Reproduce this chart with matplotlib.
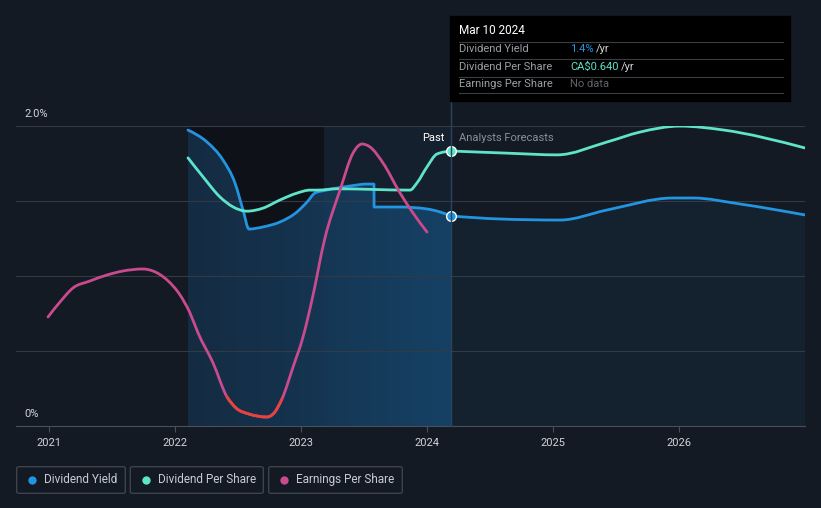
import numpy as np
import matplotlib.pyplot as plt
from matplotlib.patches import Rectangle, FancyBboxPatch, PathPatch
from matplotlib.lines import Line2D
from matplotlib.path import Path

plt.rcParams['font.family'] = ['Roboto', 'DejaVu Sans']

W, H = 821, 508
BG = '#141a23'
BLUE = '#2394df'
TEAL = '#5fe3c9'
PINK = '#c94b8d'
RED = '#e8433a'

# dividend yield (%)
yield_years = [2022.103, 2022.254, 2022.381, 2022.476, 2022.540, 2022.587, 2022.698,
               2022.833, 2022.968, 2023.048, 2023.111, 2023.206, 2023.389, 2023.524,
               2023.579, 2023.580, 2023.786, 2024.000, 2024.103, 2024.190]
yield_vals = [1.973, 1.893, 1.773, 1.620, 1.440, 1.313, 1.327,
              1.360, 1.427, 1.493, 1.553, 1.573, 1.600, 1.613,
              1.613, 1.460, 1.460, 1.447, 1.427, 1.400]
yield_fc_years = [2024.190, 2024.579, 2025.056, 2025.429, 2025.952, 2026.111, 2026.484, 2027.0]
yield_fc_vals = [1.400, 1.380, 1.373, 1.440, 1.520, 1.520, 1.480, 1.407]

# dividend per share (CA$)
dps_years = [2022.103, 2022.222, 2022.357, 2022.460, 2022.571, 2022.698, 2022.833,
             2022.968, 2023.071, 2023.127, 2023.286, 2023.865, 2023.921, 2024.000,
             2024.079, 2024.190]
dps_vals = [0.624, 0.580, 0.533, 0.510, 0.500, 0.507, 0.526,
            0.542, 0.549, 0.549, 0.552, 0.549, 0.566, 0.603,
            0.633, 0.640]
dps_fc_years = [2024.190, 2024.635, 2025.032, 2025.429, 2025.690, 2026.008, 2026.349, 2027.0]
dps_fc_vals = [0.640, 0.635, 0.631, 0.661, 0.684, 0.698, 0.689, 0.647]

# earnings per share (CA$)
eps_years = [2020.992, 2021.087, 2021.190, 2021.325, 2021.460, 2021.587, 2021.746,
             2021.825, 2021.937, 2022.040, 2022.119, 2022.183, 2022.302, 2022.413,
             2022.484, 2022.587, 2022.730, 2022.786, 2022.849, 2022.937, 2023.016,
             2023.087, 2023.190, 2023.310, 2023.413, 2023.484, 2023.548, 2023.651,
             2023.786, 2023.889, 2024.000]
eps_vals = [1.09, 1.24, 1.38, 1.45, 1.51, 1.55, 1.57,
            1.55, 1.46, 1.31, 1.13, 0.93, 0.63, 0.29,
            0.18, 0.12, 0.09, 0.13, 0.27, 0.59, 0.89,
            1.26, 1.88, 2.36, 2.73, 2.82, 2.79, 2.63,
            2.33, 2.13, 1.94]
eps_red_from, eps_red_to = 2022.41, 2022.85

year_ticks = [2021, 2022, 2023, 2024, 2025, 2026]
past_start = 2023.183
today = 2024.19
XMIN, XMAX = 2020.738, 2027.0


def fx(x):
    return x / W


def fy(y):
    return 1 - y / H


def smooth_path(xs, ys):
    # monotone-x cubic through the points, drawn as bezier segments
    x = np.asarray(xs, float)
    y = np.asarray(ys, float)
    h = np.diff(x)
    s = np.diff(y) / h
    m = np.zeros_like(y)
    for i in range(1, len(x) - 1):
        if s[i - 1] * s[i] > 0:
            p = (s[i - 1] * h[i] + s[i] * h[i - 1]) / (h[i - 1] + h[i])
            m[i] = np.sign(s[i - 1]) * min(abs(s[i - 1]), abs(s[i]), 0.5 * abs(p))
            m[i] *= 2
    m[0] = (3 * s[0] - m[1]) / 2 if len(x) > 2 else s[0]
    m[-1] = (3 * s[-1] - m[-2]) / 2 if len(x) > 2 else s[-1]
    verts = [(x[0], y[0])]
    codes = [Path.MOVETO]
    for i in range(len(x) - 1):
        d = h[i] / 3
        verts += [(x[i] + d, y[i] + m[i] * d), (x[i + 1] - d, y[i + 1] - m[i + 1] * d),
                  (x[i + 1], y[i + 1])]
        codes += [Path.CURVE4] * 3
    return Path(verts, codes)


def draw_line(a, xs, ys, color, z=3):
    a.add_patch(PathPatch(smooth_path(xs, ys), fc='none', ec=color, lw=2, zorder=z,
                          capstyle='round', joinstyle='round'))


fig = plt.figure(figsize=(W / 100, H / 100), dpi=100, facecolor=BG)
ax = fig.add_axes([fx(16), fy(426), fx(805) - fx(16), fy(126) - fy(426)])
ax.set_facecolor(BG)
ax.set_xlim(XMIN, XMAX)
ax.set_ylim(0, 2.0)

for v in [0.5, 1.0, 1.5, 2.0]:
    ax.axhline(v, color='#333a44', lw=0.8, zorder=1)

ax.axvspan(yield_years[0], past_start, color='#0e1218', zorder=0.5, lw=0)
ax.axvspan(past_start, today, color='#1e4d7a', alpha=0.13, zorder=0.6, lw=0)

# area under the past yield, getting bluer towards today
p = smooth_path(yield_years, yield_vals)
area = np.vstack([p.vertices, [[today, 0], [yield_years[0], 0], [yield_years[0], yield_vals[0]]]])
acodes = list(p.codes) + [Path.LINETO, Path.LINETO, Path.LINETO]
clip = PathPatch(Path(area, acodes), fc='none', ec='none', transform=ax.transData)
ax.add_patch(clip)
grad = np.linspace(0, 1, 200).reshape(1, -1)
img = ax.imshow(grad, extent=[yield_years[0], today, 0, 2.0], aspect='auto',
                cmap=plt.matplotlib.colors.LinearSegmentedColormap.from_list(
                    'g', [(0.09, 0.19, 0.29, 0.85), (0.09, 0.27, 0.42, 0.9)]),
                zorder=0.7, interpolation='bilinear')
img.set_clip_path(clip)

pf = smooth_path(yield_fc_years, yield_fc_vals)
farea = np.vstack([pf.vertices, [[XMAX, 0], [today, 0], [today, yield_fc_vals[0]]]])
fcodes = list(pf.codes) + [Path.LINETO, Path.LINETO, Path.LINETO]
ax.add_patch(PathPatch(Path(farea, fcodes), fc=BLUE, alpha=0.06, ec='none', zorder=0.7))

draw_line(ax, yield_years, yield_vals, BLUE)
draw_line(ax, yield_fc_years, yield_fc_vals, BLUE)
ax.plot([today], [yield_vals[-1]], 'o', ms=7, color=BLUE, mec='white', mew=1, zorder=6)
ax.set_xlim(XMIN, XMAX)
ax.set_ylim(0, 2.0)

ax_dps = ax.twinx()
ax_dps.set_ylim(0, 0.64 * 300 / 275)
draw_line(ax_dps, dps_years, dps_vals, TEAL)
draw_line(ax_dps, dps_fc_years, dps_fc_vals, TEAL)
ax_dps.plot([today], [dps_vals[-1]], 'o', ms=7, color=TEAL, mec='white', mew=1, zorder=6)

ax_eps = ax.twinx()
ax_eps.set_ylim(0, 3.0)
draw_line(ax_eps, eps_years, eps_vals, PINK)
ey = np.array(eps_years)
ev = np.array(eps_vals)
m = (ey >= eps_red_from) & (ey <= eps_red_to)
draw_line(ax_eps, ey[m], ev[m], RED, z=4)

for a in (ax, ax_dps, ax_eps):
    a.set_xlim(XMIN, XMAX)
    for s in a.spines.values():
        s.set_visible(False)
    a.tick_params(left=False, right=False, labelleft=False, labelright=False)
ax_dps.tick_params(bottom=False, labelbottom=False)
ax_eps.tick_params(bottom=False, labelbottom=False)
ax_dps.set_ylim(0, 0.64 * 300 / 275)
ax_eps.set_ylim(0, 3.0)

ax.spines['bottom'].set_visible(True)
ax.spines['bottom'].set_color('#4a5059')
ax.set_xticks(year_ticks)
ax.set_xticklabels([str(t) for t in year_ticks])
ax.tick_params(axis='x', colors='#4a5059', length=4, width=0.8, labelcolor='#d0d4da',
               labelsize=8, pad=5)

# today line reaching up to the tooltip
fig.add_artist(Line2D([fx(451), fx(451)], [fy(426), fy(101)], color='#2a4560', lw=1,
                      transform=fig.transFigure, zorder=2))

fig.text(fx(24), fy(114), '2.0%', color='#d0d4da', fontsize=8, va='center')
fig.text(fx(24), fy(414), '0%', color='#d0d4da', fontsize=8, va='center')
fig.text(fx(444), fy(138), 'Past', color='white', fontsize=8, va='center', ha='right')
fig.text(fx(459), fy(138), 'Analysts Forecasts', color='#8a9099', fontsize=8, va='center')

# tooltip
fig.add_artist(Rectangle((fx(450), fy(101)), fx(340), 85 / H, transform=fig.transFigure,
                         color='black', zorder=5))
for yy in [41.5, 58.5, 76.5, 93]:
    fig.add_artist(Line2D([fx(459), fx(783)], [fy(yy), fy(yy)], color='#3a3d42', lw=0.8,
                          transform=fig.transFigure, zorder=6))
fig.text(fx(459), fy(31), 'Mar 10 2024', color='white', fontsize=8.5, va='center', zorder=7)
rows = ['Dividend Yield', 'Dividend Per Share', 'Earnings Per Share']
row_y = [49.5, 66.5, 84]
for r, yy in zip(rows, row_y):
    fig.text(fx(459), fy(yy), r, color='#9aa0a6', fontsize=8, va='center', zorder=7)
fig.text(fx(570), fy(49.5), '1.4%', color=BLUE, fontsize=8, va='center', zorder=7)
fig.text(fx(596), fy(49.5), '/yr', color='#d0d4da', fontsize=8, va='center', zorder=7)
fig.text(fx(570), fy(66.5), 'CA\\$0.640', color=TEAL, fontsize=8, va='center', zorder=7)
fig.text(fx(621), fy(66.5), '/yr', color='#d0d4da', fontsize=8, va='center', zorder=7)
fig.text(fx(570), fy(84), 'No data', color='#5f6368', fontsize=8, va='center', zorder=7)

# legend
legend_items = ['Dividend Yield', 'Dividend Per Share', 'Earnings Per Share']
legend_colors = [BLUE, TEAL, PINK]
boxes = [(16.7, 125.3), (130.3, 263.3), (268.7, 402.3)]
for name, c, (x0, x1) in zip(legend_items, legend_colors, boxes):
    fig.add_artist(FancyBboxPatch((fx(x0), fy(493.3)), fx(x1 - x0), 26.6 / H,
                                  boxstyle='round,pad=0,rounding_size=0.003',
                                  transform=fig.transFigure, fc='none', ec='#3d434c', lw=1))
    fig.add_artist(Line2D([fx(x0 + 15.5)], [fy(479.5)], marker='o', ms=6, color=c, mew=0,
                          transform=fig.transFigure))
    fig.text(fx(x0 + 27.5), fy(479.5), name, color='#c8ccd2', fontsize=8.5, va='center')

fig.savefig('out.png', dpi=100, facecolor=BG)
